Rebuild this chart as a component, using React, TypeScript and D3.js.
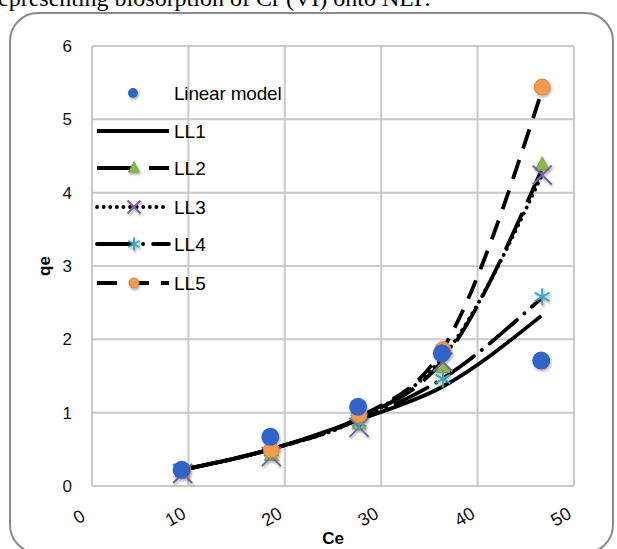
import React from 'react';
import * as d3 from 'd3';

// Ce values shared by every series
const ce = [9.3, 18.5, 27.6, 36.3, 46.6];

// plotted points
const linearModel = [0.22, 0.67, 1.08, 1.81, 1.71];
const ll2 = [0.19, 0.42, 0.85, 1.62, 4.38];
const ll3 = [0.17, 0.4, 0.8, 1.69, 4.24];
const ll4 = [0.21, 0.47, 0.87, 1.46, 2.58];
const ll5 = [0.21, 0.49, 0.97, 1.86, 5.44];

// fitted curves (black lines)
const ll1Fit = [0.22, 0.5, 0.9, 1.35, 2.32];
const ll2Fit = [0.22, 0.5, 0.92, 1.7, 4.3];
const ll3Fit = [0.22, 0.5, 0.91, 1.74, 4.22];
const ll4Fit = [0.22, 0.5, 0.9, 1.46, 2.56];
const ll5Fit = [0.22, 0.5, 0.93, 1.85, 5.36];

const xTicks = [0, 10, 20, 30, 40, 50];
const yTicks = [0, 1, 2, 3, 4, 5, 6];

const W = 617;
const H = 549;
const font = 'Liberation Sans, Arial, Helvetica, sans-serif';

type Marker = 'none' | 'triangle' | 'x' | 'asterisk' | 'circle';
const lineSeries: { name: string; points: number[] | null; fit: number[]; dash: string; cap: string; marker: Marker }[] = [
  { name: 'LL1', points: null, fit: ll1Fit, dash: 'none', cap: 'butt', marker: 'none' },
  { name: 'LL2', points: ll2, fit: ll2Fit, dash: '40 12', cap: 'butt', marker: 'triangle' },
  { name: 'LL3', points: ll3, fit: ll3Fit, dash: '0.1 6.5', cap: 'round', marker: 'x' },
  { name: 'LL4', points: ll4, fit: ll4Fit, dash: '36 10 0.1 10', cap: 'round', marker: 'asterisk' },
  { name: 'LL5', points: ll5, fit: ll5Fit, dash: '20 12', cap: 'butt', marker: 'circle' },
];

const drawMarker = (kind: Marker, cx: number, cy: number, s: number, key: string) => {
  if (kind === 'triangle') {
    const h = s * 0.95;
    return (
      <path key={key} d={`M${cx},${cy - h * 0.6}L${cx + s / 2},${cy + h * 0.4}L${cx - s / 2},${cy + h * 0.4}Z`}
        fill="#8cb84f" stroke="#7aa53f" strokeWidth={1} />
    );
  }
  if (kind === 'x') {
    const r = s / 2;
    return (
      <path key={key} d={`M${cx - r},${cy - r}L${cx + r},${cy + r}M${cx - r},${cy + r}L${cx + r},${cy - r}`}
        stroke="#7d5fa8" strokeWidth={2} fill="none" />
    );
  }
  if (kind === 'asterisk') {
    const r = s / 2;
    return (
      <path key={key}
        d={`M${cx},${cy - r}L${cx},${cy + r}M${cx - r * 0.87},${cy - r / 2}L${cx + r * 0.87},${cy + r / 2}M${cx - r * 0.87},${cy + r / 2}L${cx + r * 0.87},${cy - r / 2}`}
        stroke="#3aa5bd" strokeWidth={2} fill="none" />
    );
  }
  if (kind === 'circle') {
    return <circle key={key} cx={cx} cy={cy} r={s / 2} fill="#f39a4f" stroke="#e07f2f" strokeWidth={1} />;
  }
  return null;
};

const markerSize = (m: Marker) => (m === 'circle' ? 16 : m === 'triangle' ? 14 : m === 'x' ? 19 : 17);

const App = () => {
  const x = d3.scaleLinear().domain([0, 50]).range([92, 574]);
  const y = d3.scaleLinear().domain([0, 6]).range([486, 46]);

  const line = d3
    .line<number>()
    .x((d, i) => x(ce[i]))
    .y((d) => y(d))
    .curve(d3.curveMonotoneX);

  const legendY = [93, 131, 168, 207, 244, 283];

  return (
    <svg width={W} height={H} style={{ position: 'absolute', left: 0, top: 0 }}>
      <defs>
        <filter id="shadow" x="-50%" y="-50%" width="200%" height="200%">
          <feDropShadow dx="1" dy="2" stdDeviation="1.2" floodColor="#000" floodOpacity="0.3" />
        </filter>
      </defs>
      <rect width={W} height={H} fill="#fff" />
      <text x={-10} y={6} fontFamily="Liberation Serif, Times New Roman, serif" fontSize={24} fill="#000">
        representing biosorption of Cr (VI) onto NLP.
      </text>
      <rect x={10} y={13} width={603} height={540} rx={28} fill="#fff" stroke="#8a8a8a" strokeWidth={2} />

      {/* grid */}
      {xTicks.map((t) => (
        <line key={'gx' + t} x1={x(t)} x2={x(t)} y1={y(0)} y2={y(6)} stroke="#c9c9c9" strokeWidth={2} />
      ))}
      {yTicks.map((t) => (
        <line key={'gy' + t} x1={x(0)} x2={x(50)} y1={y(t)} y2={y(t)} stroke="#c9c9c9" strokeWidth={2} />
      ))}

      {/* tick labels */}
      {yTicks.map((t) => (
        <text key={'ty' + t} x={72} y={y(t) + 6} textAnchor="end" fontFamily={font} fontSize={17} fill="#111">
          {t}
        </text>
      ))}
      {xTicks.map((t) => (
        <text key={'tx' + t} textAnchor="middle" fontFamily={font} fontSize={18} fill="#111"
          transform={`translate(${x(t) - 10},${522}) rotate(-30)`}>
          {t}
        </text>
      ))}
      <text x={333} y={544} textAnchor="middle" fontFamily={font} fontSize={17} fontWeight="bold">Ce</text>
      <text transform="translate(50,266) rotate(-90)" textAnchor="middle" fontFamily={font} fontSize={17} fontWeight="bold">qe</text>

      {/* model lines */}
      {lineSeries.map((s) => (
        <path key={s.name} d={line(s.fit) || ''} fill="none" stroke="#000" strokeWidth={3.8}
          strokeDasharray={s.dash} strokeLinecap={s.cap as any} />
      ))}

      {/* markers */}
      <g filter="url(#shadow)">
        {lineSeries.map((s) =>
          (s.points || []).map((v, i) => drawMarker(s.marker, x(ce[i]) + 1, y(v), markerSize(s.marker), s.name + i))
        )}
        {linearModel.map((v, i) => (
          <circle key={'lm' + i} cx={x(ce[i])} cy={y(v)} r={9} fill="#3163cb" />
        ))}
      </g>

      {/* legend */}
      <g>
        <circle cx={133} cy={legendY[0]} r={5} fill="#3163cb" filter="url(#shadow)" />
        <text x={174} y={legendY[0] + 7} fontFamily={font} fontSize={19} letterSpacing={-0.2}>Linear model</text>
        {lineSeries.map((s, i) => {
          const ly = legendY[i + 1];
          return (
            <g key={'lg' + s.name}>
              <line x1={97} x2={169} y1={ly} y2={ly} stroke="#000" strokeWidth={3.8}
                strokeDasharray={s.dash} strokeLinecap={s.cap as any} />
              <g filter="url(#shadow)">
                {drawMarker(s.marker, 134, ly, s.marker === 'circle' ? 10 : s.marker === 'triangle' ? 11 : 13, 'lm' + s.name)}
              </g>
              <text x={174} y={ly + 7} fontFamily={font} fontSize={19}>{s.name}</text>
            </g>
          );
        })}
      </g>
    </svg>
  );
};

export default App;
